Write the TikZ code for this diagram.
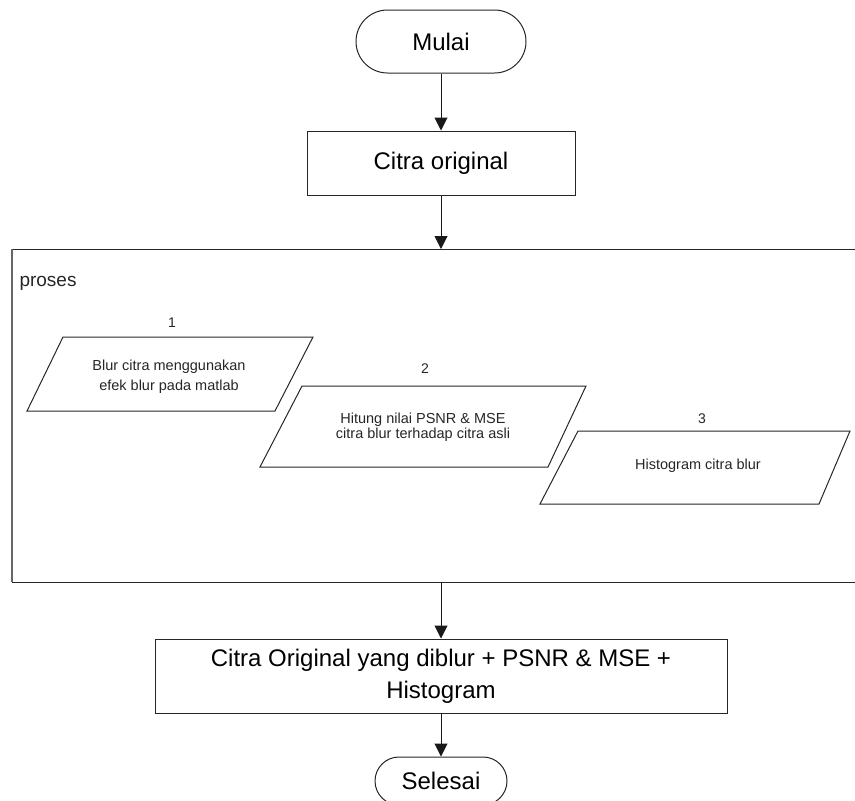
\documentclass[tikz,border=0pt]{standalone}
\usepackage{fontspec}
\setmainfont{Liberation Sans}
\usetikzlibrary{arrows.meta,shapes.misc}
\begin{document}
\begin{tikzpicture}[x=1pt,y=-1pt,
  line/.style={draw=black!85, line width=1pt},
  arr/.style={draw=black!90, line width=1pt, -{Triangle[width=13pt,length=13pt]}},
  term/.style={line, rounded rectangle, inner sep=0pt, font=\fontsize{24}{28}\selectfont},
  boxnode/.style={line, rectangle, inner sep=0pt, align=center},
  bigtext/.style={font=\fontsize{24}{32}\selectfont},
  smalltext/.style={font=\fontsize{14.5}{20}\selectfont, align=center, text=black!85},
  numlabel/.style={font=\fontsize{14}{16}\selectfont, text=black!85}]
\useasboundingbox (0,0) rectangle (855,801);
\clip (0,0) rectangle (855,801);

% start
\node[term, minimum width=170pt, minimum height=63pt] (mulai) at (441,41.5) {Mulai};

% original image
\node[boxnode, bigtext, minimum width=268pt, minimum height=64pt] (orig) at (441,163) {Citra original};

% process container (open on the right)
\draw[line] (855,249) -- (12,249);
\draw[line] (12,582) -- (855,582);
\draw[draw=gray!80!black, line width=1.6pt] (12,249) -- (12,582);
\coordinate (ptop) at (441,249);
\coordinate (pbot) at (441,582);
\node[anchor=west, font=\fontsize{19}{22}\selectfont, text=black!85] (proses) at (16,283) {proses};

% step 1
\node[numlabel] (n1) at (172,323) {1};
\draw[line] (63,337) -- (313,337) -- (275,411) -- (27,411) -- cycle;
\node[smalltext] (t1) at (169,376.5) {Blur citra menggunakan\\efek blur pada matlab};

% step 2
\node[numlabel] (n2) at (425,369) {2};
\draw[line] (302,386) -- (586,386) -- (548,467) -- (260,467) -- cycle;
\node[smalltext, font=\fontsize{14.5}{15.5}\selectfont] (t2) at (423,427) {Hitung nilai PSNR \& MSE\\citra blur terhadap citra asli};

% step 3
\node[numlabel] (n3) at (702,419) {3};
\draw[line] (578,431) -- (850,431) -- (819,504) -- (540,504) -- cycle;
\node[smalltext] (t3) at (698,466) {Histogram citra blur};

% result
\node[boxnode, bigtext, minimum width=572pt, minimum height=74pt] (hasil) at (441,676) {Citra Original yang diblur + PSNR \& MSE +\\Histogram};

% end
\node[term, minimum width=132pt, minimum height=48pt] (selesai) at (441,781) {Selesai};

% connectors
\draw[arr] (mulai) -- (orig);
\draw[arr] (orig) -- (ptop);
\draw[arr] (pbot) -- (hasil);
\draw[arr] (hasil) -- (selesai);
\end{tikzpicture}
\end{document}
